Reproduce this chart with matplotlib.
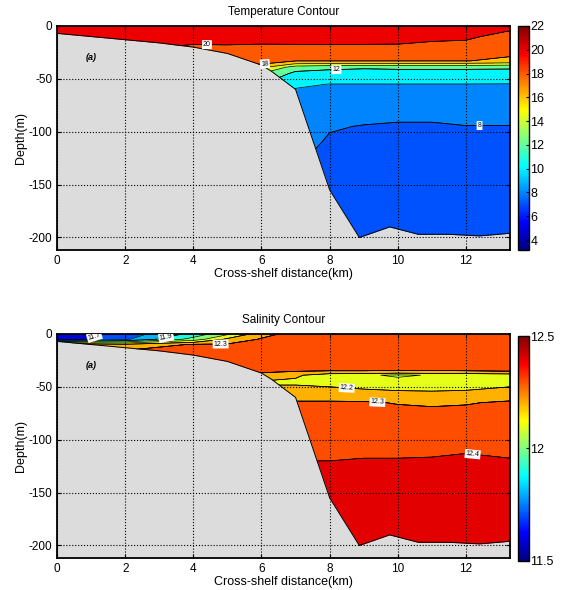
import numpy as np
import matplotlib
matplotlib.use('Agg')
import matplotlib.pyplot as plt
from matplotlib import cm, colors as mcolors

# station positions (km) and depth levels (m) of the section
dist_km = [0, 2, 4, 5, 6, 7, 8, 9, 10, 11, 12, 13.3]
depth_m = [0, -5, -10, -17, -25, -33, -36, -39, -45, -55, -65, -80, -95, -110, -125, -160, -212]

# temperature (deg C), one row per depth level, one column per station
temp = [
    [21.4, 21.3, 21.2, 21.1, 21.1, 21.1, 21.0, 21.0, 21.0, 21.0, 21.0, 20.6],
    [21.3, 21.2, 21.1, 21.0, 21.0, 21.0, 20.9, 20.9, 20.9, 20.8, 20.7, 19.95],
    [21.2, 21.0, 20.9, 20.8, 20.8, 20.8, 20.7, 20.7, 20.6, 20.4, 20.3, 19.4],
    [21.0, 20.5, 20.05, 20.1, 20.02, 20.05, 20.1, 20.05, 20.02, 19.8, 19.7, 18.8],
    [20.5, 19.8, 19.3, 19.2, 19.0, 19.0, 19.0, 19.0, 19.0, 18.9, 18.9, 18.4],
    [20.0, 19.3, 18.8, 18.5, 18.3, 18.05, 18.05, 18.05, 18.05, 18.05, 18.05, 17.6],
    [19.8, 19.0, 18.5, 18.2, 18.02, 15.8, 15.6, 15.5, 15.5, 15.4, 15.4, 15.0],
    [19.5, 18.5, 18.0, 17.5, 16.5, 13.0, 12.4, 12.2, 12.3, 12.3, 12.3, 12.2],
    [19.0, 17.5, 17.0, 16.0, 14.0, 11.5, 11.4, 11.4, 11.4, 11.4, 11.4, 11.5],
    [18.0, 16.0, 15.0, 14.0, 12.1, 10.2, 9.98, 9.98, 9.98, 9.98, 9.98, 9.95],
    [16.1, 14.1, 13.0, 12.1, 11.0, 9.7, 9.7, 9.6, 9.6, 9.6, 9.6, 9.5],
    [14.1, 12.1, 11.5, 11.0, 10.5, 9.4, 9.3, 8.9, 8.55, 8.55, 8.9, 8.8],
    [12.1, 11.0, 10.8, 10.5, 10.1, 9.2, 8.2, 7.9, 7.8, 7.8, 7.95, 7.95],
    [11.0, 10.5, 10.3, 10.1, 9.5, 9.0, 7.7, 7.6, 7.6, 7.6, 7.6, 7.7],
    [10.5, 10.1, 9.8, 9.5, 9.0, 8.2, 7.6, 7.5, 7.5, 7.5, 7.5, 7.6],
    [10.1, 9.5, 9.3, 9.0, 8.5, 7.8, 7.5, 7.4, 7.4, 7.4, 7.4, 7.5],
    [9.5, 9.0, 8.8, 8.5, 8.1, 7.6, 7.4, 7.3, 7.3, 7.3, 7.3, 7.4],
]

# salinity, same layout
salt = [
    [11.62, 11.74, 11.93, 12.08, 12.26, 12.34, 12.35, 12.36, 12.36, 12.36, 12.36, 12.36],
    [11.64, 11.78, 12.04, 12.22, 12.31, 12.34, 12.35, 12.36, 12.36, 12.36, 12.36, 12.36],
    [12.31, 12.22, 12.31, 12.31, 12.33, 12.34, 12.35, 12.35, 12.35, 12.35, 12.35, 12.35],
    [12.33, 12.32, 12.33, 12.33, 12.34, 12.34, 12.34, 12.35, 12.35, 12.35, 12.35, 12.35],
    [12.34, 12.33, 12.34, 12.34, 12.34, 12.34, 12.34, 12.34, 12.34, 12.34, 12.34, 12.34],
    [12.34, 12.34, 12.34, 12.34, 12.33, 12.34, 12.33, 12.33, 12.33, 12.33, 12.33, 12.33],
    [12.34, 12.34, 12.34, 12.34, 12.31, 12.29, 12.28, 12.28, 12.27, 12.27, 12.28, 12.29],
    [12.34, 12.34, 12.34, 12.34, 12.27, 12.22, 12.13, 12.12, 12.08, 12.11, 12.12, 12.14],
    [12.34, 12.34, 12.34, 12.34, 12.195, 12.18, 12.16, 12.15, 12.14, 12.15, 12.15, 12.15],
    [12.34, 12.34, 12.34, 12.34, 12.21, 12.24, 12.24, 12.22, 12.21, 12.205, 12.21, 12.25],
    [12.35, 12.35, 12.35, 12.35, 12.31, 12.31, 12.31, 12.31, 12.295, 12.29, 12.295, 12.31],
    [12.36, 12.36, 12.36, 12.36, 12.34, 12.34, 12.34, 12.34, 12.34, 12.33, 12.33, 12.34],
    [12.37, 12.37, 12.37, 12.37, 12.36, 12.36, 12.36, 12.36, 12.36, 12.36, 12.36, 12.36],
    [12.38, 12.38, 12.38, 12.38, 12.38, 12.38, 12.38, 12.38, 12.38, 12.385, 12.395, 12.38],
    [12.41, 12.41, 12.41, 12.41, 12.41, 12.41, 12.41, 12.42, 12.42, 12.42, 12.42, 12.42],
    [12.44, 12.44, 12.44, 12.44, 12.44, 12.44, 12.45, 12.45, 12.45, 12.45, 12.45, 12.45],
    [12.45, 12.45, 12.45, 12.45, 12.45, 12.45, 12.46, 12.46, 12.46, 12.46, 12.46, 12.46],
]

# sea floor
bottom_x = [0, 1, 2, 3, 4, 5, 6, 6.3, 7.0, 8.0, 8.87, 9.76, 10.6, 11.5, 12.4, 13.3]
bottom_z = [-7, -10, -13, -16, -20, -26, -37, -43, -60, -155, -200, -190, -197, -197, -198.5, -196]

temp_levels = [3.15, 7, 8, 10, 12, 14, 16, 18, 20, 22]
temp_lines = [8, 10, 12, 14, 16, 18, 20]
temp_clim = (3.15, 22)
temp_ticks = [4, 6, 8, 10, 12, 14, 16, 18, 20, 22]
temp_labels = [(20, 4.4, -17.5), (18, 6.1, -36), (12, 8.2, -41.5), (8, 12.4, -93)]

salt_levels = [11.5, 11.6, 11.7, 11.8, 11.9, 12.0, 12.1, 12.2, 12.3, 12.4, 12.5]
salt_lines = salt_levels[1:-1]
salt_clim = (11.5, 12.5)
salt_ticks = [11.5, 12, 12.5]
salt_labels = [(11.7, 1.1, -3), (11.9, 3.2, -3), (12.3, 4.8, -9.5),
               (12.2, 8.5, -52), (12.3, 9.4, -65), (12.4, 12.2, -113)]

land_gray = '#dcdcdc'

# MATLAB style jet
jet = mcolors.LinearSegmentedColormap.from_list('mjet', [
    (0.0, (0, 0, 0.5)), (0.125, (0, 0, 1)), (0.375, (0, 1, 1)),
    (0.625, (1, 1, 0)), (0.875, (1, 0, 0)), (1.0, (0.5, 0, 0))])

plt.rcParams['font.family'] = ['Liberation Sans', 'DejaVu Sans']
plt.rcParams['font.size'] = 8
plt.rcParams['axes.unicode_minus'] = False

fig = plt.figure(figsize=(5.65, 5.9), dpi=100)


def panel(ax, cax, field, levels, lines, clim, labels, fmt, title, cticks):
    X, Z = np.meshgrid(dist_km, depth_m)
    F = np.array(field)
    norm = mcolors.Normalize(*clim)
    band_colors = [jet(norm(v)) for v in levels[:-1]]
    ax.set_facecolor(land_gray)
    ax.contourf(X, Z, F, levels=levels, colors=band_colors, zorder=1)
    ax.contour(X, Z, F, levels=lines, colors='k', linewidths=0.5, zorder=1.5)
    ax.fill_between(bottom_x, bottom_z, -215, color=land_gray, lw=0, zorder=2)
    ax.plot(bottom_x, bottom_z, color='k', lw=0.7, zorder=2.2)

    # one labelled contour per label (clabel with a level subset is buggy)
    for lev, lx, ly in labels:
        c = ax.contour(X, Z, F, levels=[lev], colors='k', linewidths=0.5, zorder=1.5)
        for t in c.clabel(manual=[(lx, ly)], inline=True, fontsize=5, fmt=fmt,
                          inline_spacing=2):
            t.set_bbox(dict(facecolor='white', edgecolor='none', pad=0.7))
            t.set_zorder(4)

    ax.set_xlim(0, 13.3)
    ax.set_ylim(-212, 0)
    ax.set_xticks([0, 2, 4, 6, 8, 10, 12])
    ax.set_yticks([0, -50, -100, -150, -200])
    ax.grid(True, color='k', linestyle=':', linewidth=0.8)
    ax.set_axisbelow(False)
    ax.tick_params(direction='in', length=3, top=True, right=True, labelsize=8.5)
    for s in ax.spines.values():
        s.set_linewidth(1.3)
    ax.set_title(title, fontsize=8.5, pad=8)
    ax.set_xlabel('Cross-shelf distance(km)', fontsize=9, labelpad=1)
    ax.set_ylabel('Depth(m)', fontsize=9, labelpad=1)
    ax.text(0.85, -32, '(a)', fontstyle='italic', fontweight='bold', fontsize=6.5)

    sm = cm.ScalarMappable(norm=norm, cmap=jet)
    cb = fig.colorbar(sm, cax=cax)
    cb.set_ticks(cticks)
    cb.set_ticklabels(['%g' % v for v in cticks])
    cb.outline.set_linewidth(1.0)
    cax.tick_params(direction='in', length=2.5, labelsize=9, pad=1)


ax1 = fig.add_axes([0.101, 0.576, 0.802, 0.380])
cax1 = fig.add_axes([0.917, 0.576, 0.0195, 0.380])
panel(ax1, cax1, temp, temp_levels, temp_lines, temp_clim,
      temp_labels, '%g', 'Temperature Contour', temp_ticks)

ax2 = fig.add_axes([0.101, 0.054, 0.802, 0.380])
cax2 = fig.add_axes([0.917, 0.050, 0.0195, 0.380])
panel(ax2, cax2, salt, salt_levels, salt_lines, salt_clim,
      salt_labels, '%.1f', 'Salinity Contour', salt_ticks)

fig.savefig('out.png', dpi=100)
